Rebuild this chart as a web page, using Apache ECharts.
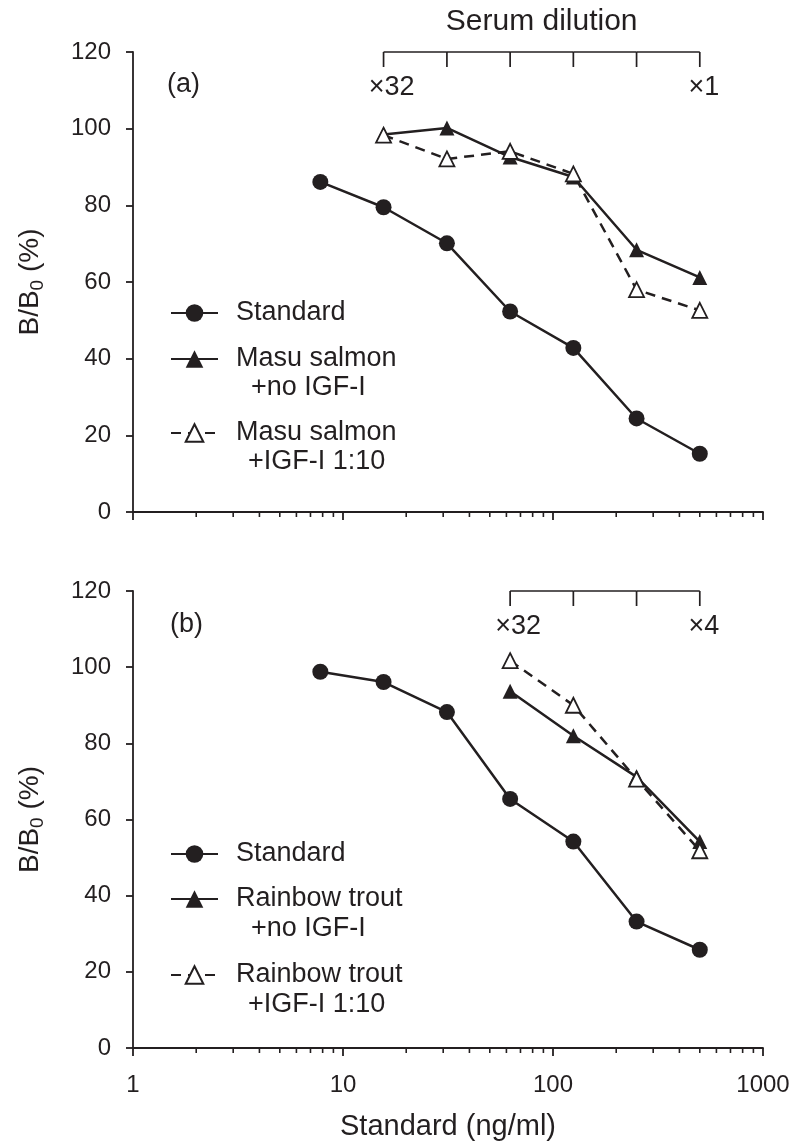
<!DOCTYPE html>
<html>
<head>
<meta charset="utf-8">
<script src="https://cdn.jsdelivr.net/npm/echarts@6/dist/echarts.min.js"></script>
<style>
  html, body { margin: 0; padding: 0; background: #fff; }
  #chart { width: 794px; height: 1142px; }
</style>
</head>
<body>
<div id="chart"></div>
<script>
// dose of standard (ng/ml) and matching serum points
const standardDose = [7.8, 15.6, 31.25, 62.5, 125, 250, 500];
const masuDose = [15.6, 31.25, 62.5, 125, 250, 500];
const troutDose = [62.5, 125, 250, 500];

// panel (a)
const standardA = [86.1, 79.5, 70.1, 52.3, 42.8, 24.4, 15.2];
const masuNoIgf = [98.5, 100.2, 92.6, 87.4, 68.4, 61.2];
const masuIgf = [98.3, 92.1, 94.1, 88.2, 58.0, 52.6];

// panel (b)
const standardB = [98.8, 96.1, 88.2, 65.4, 54.2, 33.2, 25.8];
const troutNoIgf = [93.7, 82.0, 71.2, 54.2];
const troutIgf = [101.7, 90.0, 70.6, 51.8];

// serum dilution brackets
const dilutionLabelsA = ['×32', '×1'];
const dilutionLabelsB = ['×32', '×4'];

// log axis minor ticks
const decades = [1, 10, 100];
const multipliers = [2, 3, 4, 5, 6, 7, 8, 9];
const minorTicks = [];
decades.forEach(d => multipliers.forEach(m => minorTicks.push([d * m, 0])));

const ink = '#231f20';
const fontFamily = "'Liberation Sans', Arial, sans-serif";

const chart = echarts.init(document.getElementById('chart'), null, { renderer: 'canvas' });

function pairs(xs, ys) {
  return xs.map((x, i) => [x, ys[i]]);
}

function lineSeries(name, xs, ys, idx, symbol, size, open) {
  return {
    name: name,
    type: 'line',
    xAxisIndex: idx,
    yAxisIndex: idx,
    data: pairs(xs, ys),
    symbol: symbol,
    symbolSize: size,
    showSymbol: true,
    animation: false,
    z: open ? 4 : 3,
    lineStyle: { color: ink, width: 2.5, type: open ? [10, 7] : 'solid' },
    itemStyle: open
      ? { color: '#fff', borderColor: ink, borderWidth: 1.8 }
      : { color: ink, borderWidth: 0 }
  };
}

function minorTickSeries(idx) {
  return {
    type: 'custom',
    xAxisIndex: idx,
    yAxisIndex: idx,
    data: minorTicks,
    silent: true,
    animation: false,
    renderItem: function (params, api) {
      const p = api.coord([api.value(0), 0]);
      return {
        type: 'line',
        shape: { x1: p[0], y1: p[1], x2: p[0], y2: p[1] + 5 },
        style: { stroke: ink, lineWidth: 1.6 }
      };
    }
  };
}

function bracketSeries(idx, doses, labels, title) {
  return {
    type: 'custom',
    xAxisIndex: idx,
    yAxisIndex: idx,
    data: doses.map(d => [d, 120]),
    silent: true,
    animation: false,
    renderItem: function (params, api) {
      const i = params.dataIndex;
      const p = api.coord([doses[i], 120]);
      const st = { stroke: ink, lineWidth: 1.7 };
      const children = [
        { type: 'line', shape: { x1: p[0], y1: p[1], x2: p[0], y2: p[1] + 15 }, style: st }
      ];
      if (i < doses.length - 1) {
        const q = api.coord([doses[i + 1], 120]);
        children.push({ type: 'line', shape: { x1: p[0], y1: p[1], x2: q[0], y2: q[1] }, style: st });
      }
      const txt = { fill: ink, font: '27px ' + fontFamily, align: 'center', verticalAlign: 'middle' };
      if (i === 0) {
        children.push({ type: 'text', x: p[0] + 8, y: p[1] + 36, style: Object.assign({ text: labels[0] }, txt) });
        if (title) {
          const q = api.coord([doses[doses.length - 1], 120]);
          children.push({
            type: 'text', x: (p[0] + q[0]) / 2, y: p[1] - 30,
            style: Object.assign({}, txt, { text: title, font: '30px ' + fontFamily })
          });
        }
      }
      if (i === doses.length - 1) {
        children.push({ type: 'text', x: p[0] + 4, y: p[1] + 36, style: Object.assign({ text: labels[1] }, txt) });
      }
      return { type: 'group', children: children };
    }
  };
}

function xAxis(idx, showLabels) {
  return {
    type: 'log',
    logBase: 10,
    gridIndex: idx,
    min: 1,
    max: 1000,
    axisLine: { show: true, onZero: false, lineStyle: { color: ink, width: 1.8 } },
    axisTick: { show: true, length: 8, lineStyle: { color: ink, width: 1.8 } },
    splitLine: { show: false },
    minorTick: { show: false },
    axisLabel: {
      show: showLabels, color: ink, fontSize: 24, fontFamily: fontFamily, margin: 25,
      formatter: v => String(Math.round(v))
    },
    name: showLabels ? 'Standard (ng/ml)' : '',
    nameLocation: 'middle',
    nameGap: 64,
    nameTextStyle: { color: ink, fontSize: 29, fontFamily: fontFamily }
  };
}

function yAxis(idx) {
  return {
    type: 'value',
    gridIndex: idx,
    min: 0,
    max: 120,
    interval: 20,
    axisLine: { show: true, lineStyle: { color: ink, width: 1.8 } },
    axisTick: { show: true, length: 7, lineStyle: { color: ink, width: 1.8 } },
    splitLine: { show: false },
    axisLabel: { color: ink, fontSize: 24, fontFamily: fontFamily, margin: 22 },
    name: 'B/B{s|0} (%)',
    nameLocation: 'middle',
    nameRotate: 90,
    nameGap: 86,
    nameTextStyle: {
      color: ink, fontSize: 28, fontFamily: fontFamily,
      rich: { s: { fontSize: 19, fontFamily: fontFamily, color: ink, padding: [14, 0, 0, 0] } }
    }
  };
}

function legendRow(name, centerY) {
  return {
    data: [name],
    left: 170,
    top: centerY - 15,
    padding: 0,
    itemWidth: 47,
    itemHeight: 22,
    selectedMode: false,
    formatter: n => n.split(' +')[0],
    textStyle: { color: ink, fontSize: 27, fontFamily: fontFamily, lineHeight: 30, padding: [0, 0, 0, 13] }
  };
}

function note(text, x, y, size) {
  return {
    type: 'text',
    x: x,
    y: y,
    silent: true,
    style: { text: text, fill: ink, font: size + 'px ' + fontFamily, verticalAlign: 'middle' }
  };
}

const option = {
  backgroundColor: '#fff',
  animation: false,
  textStyle: { fontFamily: fontFamily },
  grid: [
    { left: 133, right: 31, top: 52, height: 460 },
    { left: 133, right: 31, top: 591, height: 462 }
  ],
  xAxis: [xAxis(0, false), xAxis(1, true)],
  yAxis: [yAxis(0), yAxis(1)],
  legend: [
    legendRow('Standard', 313),
    legendRow('Masu salmon +no IGF-I', 359),
    legendRow('Masu salmon +IGF-I 1:10', 433),
    legendRow('Standard', 854),
    legendRow('Rainbow trout +no IGF-I', 899),
    legendRow('Rainbow trout +IGF-I 1:10', 975)
  ],
  graphic: [
    note('(a)', 167, 85, 27),
    note('(b)', 170, 625, 27),
    note('+no IGF-I', 251, 388, 27),
    note('+IGF-I 1:10', 248, 462, 27),
    note('+no IGF-I', 251, 929, 27),
    note('+IGF-I 1:10', 248, 1005, 27)
  ],
  series: [
    lineSeries('Standard', standardDose, standardA, 0, 'circle', 16, false),
    lineSeries('Masu salmon +no IGF-I', masuDose, masuNoIgf, 0, 'triangle', 15, false),
    lineSeries('Masu salmon +IGF-I 1:10', masuDose, masuIgf, 0, 'triangle', 15, true),
    lineSeries('Standard', standardDose, standardB, 1, 'circle', 16, false),
    lineSeries('Rainbow trout +no IGF-I', troutDose, troutNoIgf, 1, 'triangle', 15, false),
    lineSeries('Rainbow trout +IGF-I 1:10', troutDose, troutIgf, 1, 'triangle', 15, true),
    minorTickSeries(0),
    minorTickSeries(1),
    bracketSeries(0, masuDose, dilutionLabelsA, 'Serum dilution'),
    bracketSeries(1, troutDose, dilutionLabelsB, null)
  ]
};

chart.setOption(option);
</script>
</body>
</html>
